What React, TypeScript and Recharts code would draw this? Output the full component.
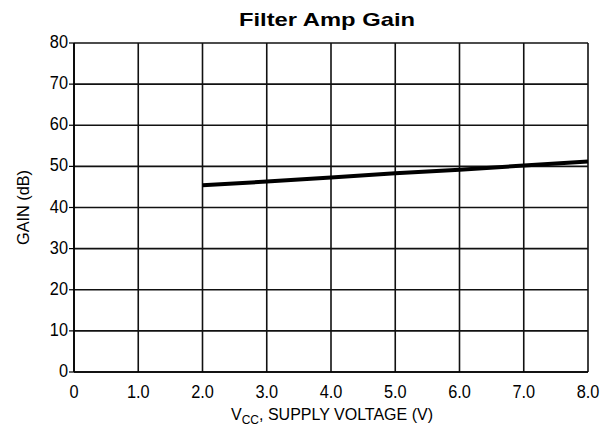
import { LineChart, Line, XAxis, YAxis, CartesianGrid } from 'recharts';

// Supply voltage (V) and gain (dB)
const supplyVoltage = [2.0, 3.0, 4.0, 5.0, 6.0, 7.0, 8.0];
const gainDb = [45.4, 46.3, 47.3, 48.3, 49.2, 50.2, 51.2];

const xTicks = [0, 1, 2, 3, 4, 5, 6, 7, 8];
const xTickLabels = ['0', '1.0', '2.0', '3.0', '4.0', '5.0', '6.0', '7.0', '8.0'];
const yTicks = [0, 10, 20, 30, 40, 50, 60, 70, 80];

const data = supplyVoltage.map((v, i) => ({ v, gain: gainDb[i] }));

const font = "'Liberation Sans', Arial, Helvetica, sans-serif";

// narrow-looking tick text, squeezed horizontally around its anchor
const XTick = ({ x, y, payload }: any) => (
  <text
    transform={`translate(${x},${y}) scale(0.86,1)`}
    dy={16}
    textAnchor="middle"
    fontFamily={font}
    fontSize={19}
    fill="#000"
  >
    {xTickLabels[xTicks.indexOf(payload.value)]}
  </text>
);

const YTick = ({ x, y, payload }: any) => (
  <text
    transform={`translate(${x},${y}) scale(0.86,1)`}
    dy={5}
    textAnchor="end"
    fontFamily={font}
    fontSize={19}
    fill="#000"
  >
    {payload.value}
  </text>
);

const XAxisTitle = () => (
  <text
    x={332}
    y={420}
    textAnchor="middle"
    fontFamily={font}
    fontSize={16}
    fill="#000"
  >
    V<tspan fontSize={12} dy={4}>CC</tspan>
    <tspan dy={-4}>, SUPPLY VOLTAGE (V)</tspan>
  </text>
);

const YAxisTitle = () => (
  <text
    x={29}
    y={207.5}
    transform="rotate(-90 29 207.5)"
    textAnchor="middle"
    fontFamily={font}
    fontSize={17}
    fill="#000"
    textLength={75}
    lengthAdjust="spacingAndGlyphs"
  >
    GAIN (dB)
  </text>
);

export default function App() {
  return (
    <div style={{ position: 'absolute', left: 0, top: 0, width: 611, height: 436, background: '#fff' }}>
      <LineChart width={611} height={436} data={data} margin={{ top: 43, right: 23, left: 0, bottom: 14 }}>
        <CartesianGrid stroke="#111" strokeWidth={1.6} horizontalValues={yTicks} verticalValues={xTicks} />
        <XAxis
          dataKey="v"
          type="number"
          domain={[0, 8]}
          ticks={xTicks}
          interval={0}
          height={50}
          axisLine={{ stroke: '#000', strokeWidth: 1.6 }}
          tickLine={false}
          tickMargin={4}
          tick={<XTick />}
          label={<XAxisTitle />}
        />
        <YAxis
          type="number"
          domain={[0, 80]}
          ticks={yTicks}
          interval={0}
          width={74}
          axisLine={{ stroke: '#000', strokeWidth: 1.6 }}
          tickLine={{ stroke: '#000', strokeWidth: 1.2 }}
          tickSize={5}
          tickMargin={1}
          tick={<YTick />}
          label={<YAxisTitle />}
        />
        <Line
          type="linear"
          dataKey="gain"
          stroke="#000"
          strokeWidth={4}
          dot={false}
          isAnimationActive={false}
        />
      </LineChart>
      <svg width={611} height={40} style={{ position: 'absolute', left: 0, top: 0, pointerEvents: 'none' }}>
        <text
          x={327}
          y={26}
          textAnchor="middle"
          fontFamily={font}
          fontWeight="bold"
          fontSize={19}
          fill="#000"
          textLength={176}
          lengthAdjust="spacingAndGlyphs"
        >
          Filter Amp Gain
        </text>
      </svg>
    </div>
  );
}
